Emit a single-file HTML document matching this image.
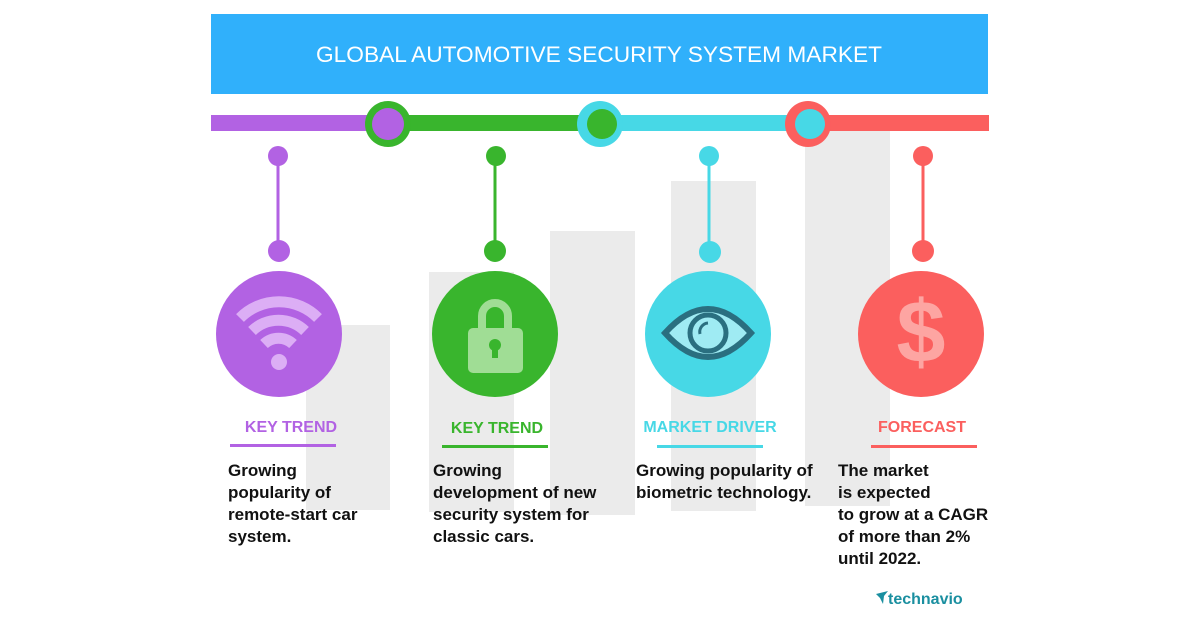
<!DOCTYPE html>
<html><head><meta charset="utf-8"><style>
html,body{margin:0;padding:0;background:#fff;}
svg{display:block;font-family:"Liberation Sans",sans-serif;}
</style></head><body>
<svg width="1200" height="627" viewBox="0 0 1200 627" xmlns="http://www.w3.org/2000/svg">
<rect x="0" y="0" width="1200" height="627" fill="#fff"/>
<g fill="#ebebeb">
<rect x="306" y="325" width="84" height="185"/>
<rect x="429" y="272" width="85" height="240"/>
<rect x="550" y="231" width="85" height="284"/>
<rect x="671" y="181" width="85" height="330"/>
<rect x="805" y="130" width="85" height="376"/>
</g>
<rect x="211" y="14" width="777" height="80" fill="#30b0fb"/>
<text x="599" y="62" text-anchor="middle" fill="#fff" font-size="22" textLength="566" lengthAdjust="spacingAndGlyphs">GLOBAL AUTOMOTIVE SECURITY SYSTEM MARKET</text>
<rect x="211" y="115" width="180" height="16" fill="#b262e3"/>
<rect x="390" y="115" width="210" height="16" fill="#39b52d"/>
<rect x="600" y="115" width="208" height="16" fill="#47d8e6"/>
<rect x="808" y="115" width="181" height="16" fill="#fb5f5e"/>
<circle cx="388" cy="124" r="23" fill="#39b52d"/><circle cx="388" cy="124" r="16" fill="#b262e3"/>
<circle cx="600" cy="124" r="23" fill="#47d8e6"/><circle cx="602" cy="124" r="15" fill="#39b52d"/>
<circle cx="808" cy="124" r="23" fill="#fb5f5e"/><circle cx="810" cy="124" r="15" fill="#47d8e6"/>
<g stroke-width="3">
<line x1="278" y1="156" x2="278" y2="251" stroke="#b262e3"/><circle cx="278" cy="156" r="10" fill="#b262e3"/><circle cx="279" cy="251" r="11" fill="#b262e3"/>
<line x1="495" y1="156" x2="495" y2="251" stroke="#39b52d"/><circle cx="496" cy="156" r="10" fill="#39b52d"/><circle cx="495" cy="251" r="11" fill="#39b52d"/>
<line x1="709" y1="156" x2="709" y2="251" stroke="#47d8e6"/><circle cx="709" cy="156" r="10" fill="#47d8e6"/><circle cx="710" cy="252" r="11" fill="#47d8e6"/>
<line x1="923" y1="156" x2="923" y2="251" stroke="#fb5f5e"/><circle cx="923" cy="156" r="10" fill="#fb5f5e"/><circle cx="923" cy="251" r="11" fill="#fb5f5e"/>
</g>
<circle cx="279" cy="334" r="63" fill="#b262e3"/>
<circle cx="495" cy="334" r="63" fill="#39b52d"/>
<circle cx="708" cy="334" r="63" fill="#47d8e6"/>
<circle cx="921" cy="334" r="63" fill="#fb5f5e"/>
<g fill="none" stroke="#dcaef5" stroke-width="11" stroke-linecap="butt">
<path d="M240 318 A55 55 0 0 1 318 318"/>
<path d="M252 331 A38 38 0 0 1 305 331"/>
<path d="M264 344 A21 21 0 0 1 293 344"/>
</g>
<circle cx="279" cy="362" r="8" fill="#dcaef5"/>
<path d="M482 330 V316 A13 13 0 0 1 508 316 V330" fill="none" stroke="#a0dd95" stroke-width="8"/>
<rect x="468" y="328" width="55" height="45" rx="5" fill="#a0dd95"/>
<circle cx="495" cy="345" r="6" fill="#39b52d"/><rect x="492" y="345" width="6" height="13" fill="#39b52d"/>
<path d="M665 333 Q708 285 751 333 Q708 381 665 333 Z" fill="#9febf3" stroke="#2a6f80" stroke-width="6"/>
<circle cx="708" cy="333" r="18" fill="#9febf3" stroke="#2a6f80" stroke-width="5"/>
<path d="M700 334 A9 9 0 0 1 708 323" fill="none" stroke="#2a6f80" stroke-width="3"/>
<text x="921" y="362" text-anchor="middle" font-size="88" font-weight="bold" fill="#fda5a2">$</text>
<g font-weight="bold" font-size="16" text-anchor="middle">
<text x="291" y="432" fill="#b262e3">KEY TREND</text>
<text x="497" y="433" fill="#39b52d">KEY TREND</text>
<text x="710" y="432" fill="#47d8e6">MARKET DRIVER</text>
<text x="922" y="432" fill="#fb5f5e">FORECAST</text>
</g>
<rect x="230" y="444" width="106" height="3" fill="#b262e3"/>
<rect x="442" y="445" width="106" height="3" fill="#39b52d"/>
<rect x="657" y="445" width="106" height="3" fill="#47d8e6"/>
<rect x="871" y="445" width="106" height="3" fill="#fb5f5e"/>
<g font-weight="bold" font-size="17" fill="#111">
<text x="228" y="476">Growing</text><text x="228" y="498">popularity of</text><text x="228" y="520">remote-start car</text><text x="228" y="542">system.</text>
<text x="433" y="476">Growing</text><text x="433" y="498">development of new</text><text x="433" y="520">security system for</text><text x="433" y="542">classic cars.</text>
<text x="636" y="476">Growing popularity of</text><text x="636" y="498">biometric technology.</text>
<text x="838" y="476">The market</text><text x="838" y="498">is expected</text><text x="838" y="520">to grow at a CAGR</text><text x="838" y="542">of more than 2%</text><text x="838" y="564">until 2022.</text>
</g>
<path d="M876 594 L888 591 L884 596 L883 604 L880 598 Z" fill="#1a8fa0"/>
<text x="888" y="604" font-size="16" fill="#1a8fa0" font-weight="bold">technavio</text>
</svg>
</body></html>
